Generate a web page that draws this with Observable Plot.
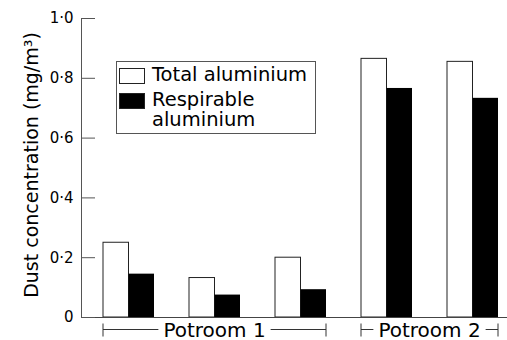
<!DOCTYPE html>
<html><head><meta charset="utf-8">
<script src="https://cdn.jsdelivr.net/npm/d3@7"></script>
<script src="https://cdn.jsdelivr.net/npm/@observablehq/plot@0.6"></script>
<style>
body{margin:0;background:#fff;}
#wrap{position:relative;width:507px;height:340px;}
</style></head>
<body><div id="wrap"></div>
<script>
// ---- data ----
const samples = ["1", "2", "3", "4", "5"];
const totalAl = [0.25, 0.132, 0.20, 0.865, 0.855];
const respAl = [0.145, 0.075, 0.093, 0.766, 0.733];
const seriesNames = ["Total aluminium", "Respirable aluminium"];
const legendLines = [["Total aluminium"], ["Respirable", "aluminium"]];
const groupNames = ["Potroom 1", "Potroom 2"];
const groupFirst = ["1", "4"];
const groupLast = ["3", "5"];
const yTicks = [0, 0.2, 0.4, 0.6, 0.8, 1.0];
const yLabel = "Dust concentration (mg/m³)";

const W = 507, H = 340, ML = 81, MR = 0, MT = 18, MB = 23;
const FONT = "DejaVu Sans, sans-serif";

const totalData = samples.map((s, i) => ({sample: s, value: totalAl[i]}));
const respData = samples.map((s, i) => ({sample: s, value: respAl[i]}));
const fmt = d => d === 0 ? "0" : d.toFixed(1).replace(".", "·");

const chart = Plot.plot({
  width: W, height: H,
  marginLeft: ML, marginRight: MR, marginTop: MT, marginBottom: MB,
  style: {fontFamily: FONT, fontSize: "15px", background: "#fff", color: "#000", overflow: "visible"},
  x: {domain: samples, range: [101.5, 498.5], paddingInner: 0.41, paddingOuter: 0, axis: null},
  y: {domain: [0, 1], axis: null},
  marks: [
    Plot.barY(totalData, {x: "sample", y: "value", fill: "white", stroke: "#222", strokeWidth: 1, insetRight: 25.5}),
    Plot.barY(respData, {x: "sample", y: "value", fill: "black", insetLeft: 25.5}),
    Plot.frame({anchor: "left", stroke: "#555"}),
    Plot.ruleY([0], {stroke: "#444", strokeWidth: 1.2}),
    Plot.tickY(yTicks, {y: d => d, stroke: "#555", insetRight: W - ML - MR - 14}),
    Plot.axisY({ticks: yTicks, tickSize: 0, tickPadding: 8, tickFormat: fmt, label: null, fontSize: 15, fill: "#000"}),
    Plot.text([yLabel], {frameAnchor: "left", textAnchor: "middle", rotate: -90, dx: -50, dy: -3, text: d => d, fontSize: 19, fill: "#000"})
  ]
});
document.getElementById("wrap").appendChild(chart);

const svg = d3.select(chart);
const xs = chart.scale("x");
const bw = xs.bandwidth;

// group brackets
const by = H - MB + 12.5;
groupNames.forEach((name, i) => {
  const x0 = xs.apply(groupFirst[i]);
  const x1 = xs.apply(groupLast[i]) + bw;
  const xm = (x0 + x1) / 2;
  const g = svg.append("g").attr("stroke", "#333").attr("stroke-width", 1);
  const t = svg.append("text").attr("x", xm).attr("y", by + 7).attr("text-anchor", "middle")
    .attr("font-family", FONT).attr("font-size", 20).attr("fill", "#000").text(name);
  const tw = t.node().getComputedTextLength();
  g.append("line").attr("x1", x0).attr("x2", xm - tw / 2 - 5).attr("y1", by).attr("y2", by);
  g.append("line").attr("x1", xm + tw / 2 + 5).attr("x2", x1).attr("y1", by).attr("y2", by);
  g.append("line").attr("x1", x0).attr("x2", x0).attr("y1", by - 6).attr("y2", by + 7);
  g.append("line").attr("x1", x1).attr("x2", x1).attr("y1", by - 6).attr("y2", by + 7);
});

// legend
const lg = svg.append("g").attr("font-family", FONT).attr("font-size", 19.5)
  .attr("fill", "#000").attr("text-anchor", "start");
lg.append("rect").attr("x", 116.5).attr("y", 61.5).attr("width", 199).attr("height", 72)
  .attr("fill", "white").attr("stroke", "#555").attr("stroke-width", 1);
const swFill = ["white", "black"];
const rowTop = [68, 93];
legendLines.forEach((lines, i) => {
  lg.append("rect").attr("x", 119.5).attr("y", rowTop[i] + 0.5).attr("width", 25).attr("height", 15)
    .attr("fill", swFill[i]).attr("stroke", "#222").attr("stroke-width", 1);
  lines.forEach((ln, j) => {
    lg.append("text").attr("x", 152).attr("y", rowTop[i] + 13 + j * 20).text(ln);
  });
});
</script>
</body></html>
